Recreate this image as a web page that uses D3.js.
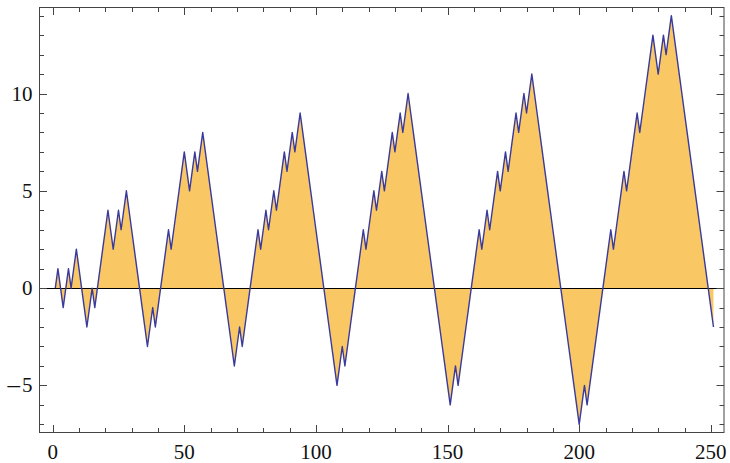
<!DOCTYPE html>
<html>
<head>
<meta charset="utf-8">
<script src="https://cdn.jsdelivr.net/npm/d3@7"></script>
<style>
  body { margin: 0; background: #fff; }
  text { font-family: "Liberation Serif", "DejaVu Serif", serif; }
</style>
</head>
<body>
<svg id="chart" width="730" height="463"></svg>
<script>
// walk values, one per step starting at x = 1
const walk = [
  0, 1, 0, -1, 0, 1, 0, 1, 2, 1,
  0, -1, -2, -1, 0, -1, 0, 1, 2, 3,
  4, 3, 2, 3, 4, 3, 4, 5, 4, 3,
  2, 1, 0, -1, -2, -3, -2, -1, -2, -1,
  0, 1, 2, 3, 2, 3, 4, 5, 6, 7,
  6, 5, 6, 7, 6, 7, 8, 7, 6, 5,
  4, 3, 2, 1, 0, -1, -2, -3, -4, -3,
  -2, -3, -2, -1, 0, 1, 2, 3, 2, 3,
  4, 3, 4, 5, 4, 5, 6, 7, 6, 7,
  8, 7, 8, 9, 8, 7, 6, 5, 4, 3,
  2, 1, 0, -1, -2, -3, -4, -5, -4, -3,
  -4, -3, -2, -1, 0, 1, 2, 3, 2, 3,
  4, 5, 4, 5, 6, 5, 6, 7, 8, 7,
  8, 9, 8, 9, 10, 9, 8, 7, 6, 5,
  4, 3, 2, 1, 0, -1, -2, -3, -4, -5,
  -6, -5, -4, -5, -4, -3, -2, -1, 0, 1,
  2, 3, 2, 3, 4, 3, 4, 5, 6, 5,
  6, 7, 6, 7, 8, 9, 8, 9, 10, 9,
  10, 11, 10, 9, 8, 7, 6, 5, 4, 3,
  2, 1, 0, -1, -2, -3, -4, -5, -6, -7,
  -6, -5, -6, -5, -4, -3, -2, -1, 0, 1,
  2, 3, 2, 3, 4, 5, 6, 5, 6, 7,
  8, 9, 8, 9, 10, 11, 12, 13, 12, 11,
  12, 13, 12, 13, 14, 13, 12, 11, 10, 9,
  8, 7, 6, 5, 4, 3, 2, 1, 0, -1,
  -2
];
const xMajor = [0, 50, 100, 150, 200, 250];
const yMajor = [-5, 0, 5, 10];

const FRAME = { left: 39.5, right: 724, top: 7.5, bottom: 432.5 };
const LINE_COLOR = "#3a3a9c";
const FILL_COLOR = "#f9c864";
const FRAME_COLOR = "#444";
const MAJOR = 7.5, MINOR = 4.5;

const data = walk.map((v, i) => ({ x: i + 1, y: v }));

const x = d3.scaleLinear().domain([-5, 255]).range([FRAME.left, FRAME.right]);
const y = d3.scaleLinear().domain([-7.42, 14.42]).range([FRAME.bottom, FRAME.top]);

const svg = d3.select("#chart");

// filled area to the axis, then the line on top
svg.append("path")
  .datum(data)
  .attr("fill", FILL_COLOR)
  .attr("d", d3.area().x((d) => x(d.x)).y0(y(0)).y1((d) => y(d.y)));

const axisY = Math.floor(y(0)) + 0.5;
svg.append("line")
  .attr("x1", FRAME.left).attr("x2", FRAME.right)
  .attr("y1", axisY).attr("y2", axisY)
  .attr("stroke", "#000").attr("stroke-width", 1.2);

svg.append("path")
  .datum(data)
  .attr("fill", "none")
  .attr("stroke", LINE_COLOR)
  .attr("stroke-width", 1.4)
  .attr("stroke-linejoin", "round")
  .attr("d", d3.line().x((d) => x(d.x)).y((d) => y(d.y)));

// frame
svg.append("rect")
  .attr("x", FRAME.left).attr("y", FRAME.top)
  .attr("width", FRAME.right - FRAME.left)
  .attr("height", FRAME.bottom - FRAME.top)
  .attr("fill", "none")
  .attr("stroke", FRAME_COLOR);

// ticks on all four sides
const xTicks = d3.range(0, 251, 10);
const yTicks = d3.range(-7, 15, 1);
const ticks = svg.append("g").attr("stroke", FRAME_COLOR).attr("stroke-width", 1);

xTicks.forEach((t) => {
  const len = xMajor.includes(t) ? MAJOR : MINOR;
  const px = Math.round(x(t)) + 0.5;
  ticks.append("line").attr("x1", px).attr("x2", px)
    .attr("y1", FRAME.bottom).attr("y2", FRAME.bottom - len);
  ticks.append("line").attr("x1", px).attr("x2", px)
    .attr("y1", FRAME.top).attr("y2", FRAME.top + len);
});

yTicks.forEach((t) => {
  const len = yMajor.includes(t) ? MAJOR : MINOR;
  const py = Math.round(y(t)) + 0.5;
  ticks.append("line").attr("y1", py).attr("y2", py)
    .attr("x1", FRAME.left).attr("x2", FRAME.left + len);
  ticks.append("line").attr("y1", py).attr("y2", py)
    .attr("x1", FRAME.right).attr("x2", FRAME.right - len);
});

// tick labels
svg.append("g").selectAll("text")
  .data(xMajor)
  .join("text")
  .attr("x", (d) => x(d))
  .attr("y", 458.5)
  .attr("text-anchor", "middle")
  .attr("font-size", 21)
  .attr("fill", "#111")
  .text((d) => String(d));

// negative labels get a wider dash, as in the original
const yLabels = svg.append("g").selectAll("text")
  .data(yMajor)
  .join("text")
  .attr("x", 32.5)
  .attr("y", (d) => y(d) + 7)
  .attr("text-anchor", "end")
  .attr("font-size", 21)
  .attr("fill", "#111");

yLabels.filter((d) => d < 0)
  .append("tspan")
  .attr("font-size", 25)
  .attr("dy", 1)
  .text("\u2013\u200a");

yLabels.append("tspan")
  .attr("dy", (d) => (d < 0 ? -1 : 0))
  .text((d) => String(Math.abs(d)));
</script>
</body>
</html>
